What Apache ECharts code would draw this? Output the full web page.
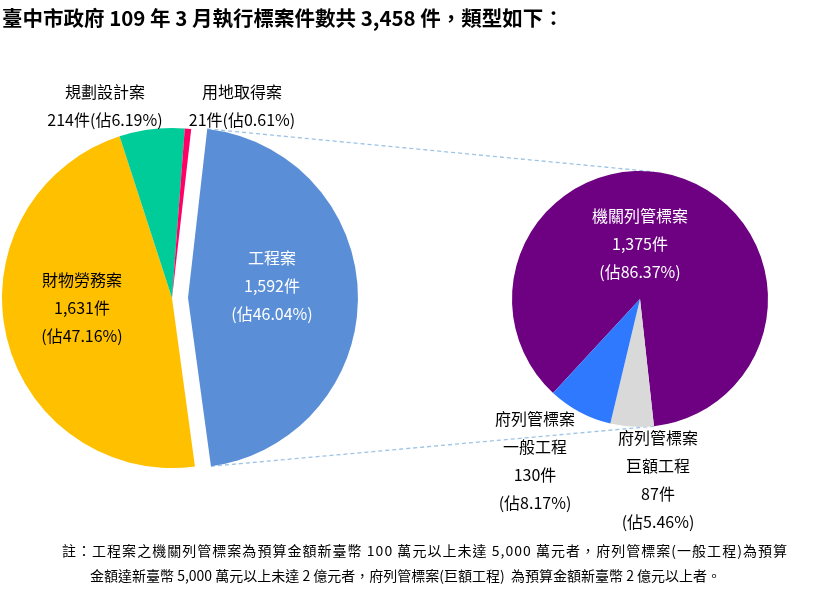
<!DOCTYPE html>
<html><head><meta charset="utf-8">
<script src="https://cdn.jsdelivr.net/npm/echarts@6/dist/echarts.min.js"></script>
<style>html,body{margin:0;padding:0;background:#fff}#c{width:835px;height:600px}</style>
</head><body><div id="c"></div>
<script>
// ---- data ----
const titleText = '臺中市政府 109 年 3 月執行標案件數共 3,458 件，類型如下：';
const mainNames = ['工程案', '財物勞務案', '規劃設計案', '用地取得案'];
const mainValues = [1592, 1631, 214, 21];
const mainPercents = ['46.04', '47.16', '6.19', '0.61'];
const subNames = ['機關列管標案', '府列管標案\n巨額工程', '府列管標案\n一般工程'];
const subValues = [1375, 87, 130];
const subPercents = ['86.37', '5.46', '8.17'];
const noteLines = [
  '註：工程案之機關列管標案為預算金額新臺幣 100 萬元以上未達 5,000 萬元者，府列管標案(一般工程)為預算',
  '金額達新臺幣 5,000 萬元以上未達 2 億元者，府列管標案(巨額工程)  為預算金額新臺幣 2 億元以上者。'
];

// ---- styles ----
const mainColors = ['#5A8FD7', '#FFC000', '#00CC99', '#FF0066'];
const subColors = ['#6E0082', '#D9D9D9', '#2F79FF'];
const FONT = '"Noto Sans CJK TC", "Noto Sans", sans-serif';
const fmt = v => String(v).replace(/\B(?=(\d{3})+(?!\d))/g, ',');

const mainLabelPos = [[272, 285], [82, 308], [105, 106], [242, 106]];
const mainLabelColor = ['#fff', '#000', '#000', '#000'];
const mainLabelPadding = [[0, 8, 0, 0], 0, 0, 0];
const subLabelPos = [[640, 244], [658, 480], [535, 461]];
const subLabelColor = ['#fff', '#000', '#000'];

const baseLabel = {
  show: true, fontFamily: FONT, fontSize: 16, lineHeight: 28, align: 'center'
};

const chart = echarts.init(document.getElementById('c'), null, {renderer: 'canvas'});
const option = {
  animation: false,
  backgroundColor: '#fff',
  title: {
    text: titleText, left: 2, top: 8, padding: 0,
    textStyle: {fontFamily: FONT, fontSize: 20.5, fontWeight: 'bold', color: '#000'}
  },
  series: [
    {
      type: 'pie', center: [172, 298], radius: 170, startAngle: 83.5, clockwise: true,
      selectedMode: 'single', selectedOffset: 16, avoidLabelOverlap: false,
      emphasis: {disabled: true}, labelLine: {show: false},
      itemStyle: {borderWidth: 0},
      label: Object.assign({}, baseLabel, {
        formatter: p => {
          const i = p.dataIndex;
          if (i === 0) {
            // selected (exploded) slice: a spacer line lifts the text block
            return `${mainNames[i]}\n${fmt(mainValues[i])}件\n(佔${mainPercents[i]}%)\n{g| }`;
          }
          return i < 2
            ? `${mainNames[i]}\n${fmt(mainValues[i])}件\n(佔${mainPercents[i]}%)`
            : `${mainNames[i]}\n${fmt(mainValues[i])}件(佔${mainPercents[i]}%)`;
        },
        rich: {g: {fontSize: 1, lineHeight: 22}}
      }),
      labelLayout: p => ({x: mainLabelPos[p.dataIndex][0], y: mainLabelPos[p.dataIndex][1], align: 'center', verticalAlign: 'middle'}),
      data: mainNames.map((n, i) => ({
        name: n, value: mainValues[i], selected: i === 0,
        itemStyle: {color: mainColors[i]},
        label: {color: mainLabelColor[i], position: i < 2 ? 'inside' : 'outside', padding: mainLabelPadding[i]},
        select: {label: {color: mainLabelColor[i], padding: mainLabelPadding[i]}}
      }))
    },
    {
      type: 'pie', center: [640, 299], radius: 128, startAngle: -132.8, clockwise: true,
      avoidLabelOverlap: false, selectedMode: false,
      emphasis: {disabled: true}, labelLine: {show: false},
      itemStyle: {borderWidth: 0},
      label: Object.assign({}, baseLabel, {
        formatter: p => {
          const i = p.dataIndex;
          return `${subNames[i]}\n${fmt(subValues[i])}件\n(佔${subPercents[i]}%)`;
        }
      }),
      labelLayout: p => ({x: subLabelPos[p.dataIndex][0], y: subLabelPos[p.dataIndex][1], align: 'center', verticalAlign: 'middle'}),
      data: subNames.map((n, i) => ({
        name: n, value: subValues[i],
        itemStyle: {color: subColors[i]},
        label: {color: subLabelColor[i], position: i === 0 ? 'inside' : 'outside'}
      }))
    }
  ]
};
chart.setOption(option);

// ---- connector lines derived from the library's pie layout ----
function layoutOf(seriesIndex, dataIndex) {
  try {
    return chart.getModel().getSeriesByIndex(seriesIndex).getData().getItemLayout(dataIndex);
  } catch (e) { return null; }
}
const L0 = layoutOf(0, 0);
const L1 = layoutOf(1, 0);
const graphics = [];
if (L0 && L1) {
  const mid = (L0.startAngle + L0.endAngle) / 2;
  const off = 16;
  const ox = L0.cx + Math.cos(mid) * off, oy = L0.cy + Math.sin(mid) * off;
  const p1 = [ox + L0.r * Math.cos(L0.startAngle), oy + L0.r * Math.sin(L0.startAngle)];
  const p2 = [ox + L0.r * Math.cos(L0.endAngle), oy + L0.r * Math.sin(L0.endAngle)];
  const a = L1.endAngle;
  const q2 = [L1.cx + L1.r * Math.cos(a), L1.cy + L1.r * Math.sin(a)];
  const q1 = [L1.cx + L1.r * Math.cos(-a), L1.cy + L1.r * Math.sin(-a)];
  [[p1, q1], [p2, q2]].forEach(([s, e]) => graphics.push({
    type: 'line', z: 1, silent: true,
    shape: {x1: s[0], y1: s[1], x2: e[0], y2: e[1]},
    style: {stroke: '#9DC3E6', lineWidth: 1.3, lineDash: [4, 3]}
  }));
}

// ---- footnote: first line justified to the text box width, last line natural ----
const noteFont = '14px ' + FONT;
const ctx = document.createElement('canvas').getContext('2d');
ctx.font = noteFont;
const chars = Array.from(noteLines[0]);
const widths = chars.map(c => ctx.measureText(c).width);
const natural = widths.reduce((s, w) => s + w, 0);
const boxLeft = 62, boxWidth = 725;
const gap = (boxWidth - natural) / (chars.length - 1);
let cx = boxLeft;
chars.forEach((c, i) => {
  if (c !== ' ') {
    graphics.push({
      type: 'text', x: cx, y: 551, silent: true,
      style: {text: c, font: noteFont, fill: '#000', align: 'left', verticalAlign: 'middle'}
    });
  }
  cx += widths[i] + gap;
});
graphics.push({
  type: 'text', x: 90, y: 576, silent: true,
  style: {text: noteLines[1], font: noteFont, fill: '#000', align: 'left', verticalAlign: 'middle'}
});
chart.setOption({graphic: graphics});
</script>
</body></html>
